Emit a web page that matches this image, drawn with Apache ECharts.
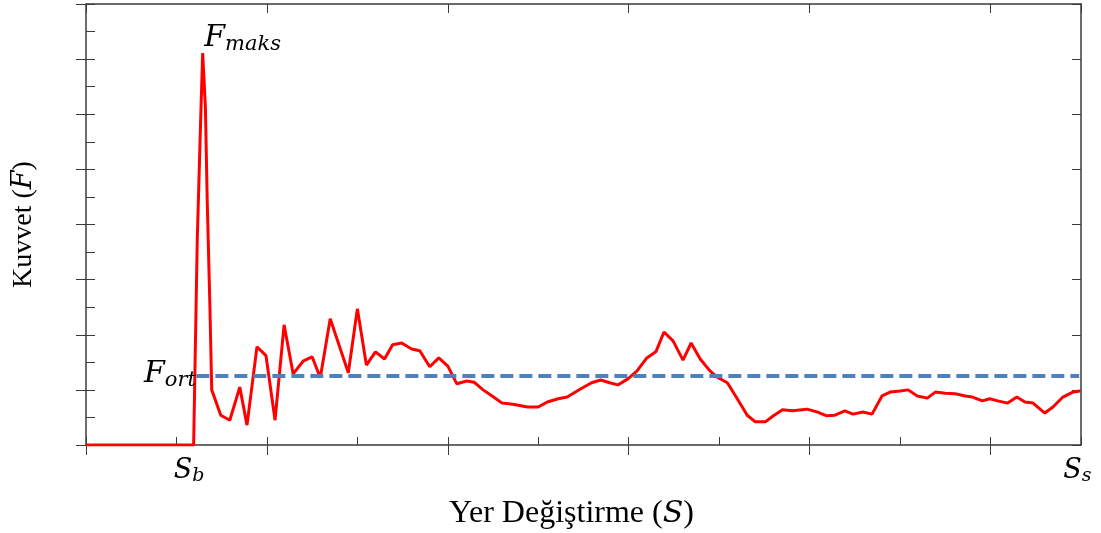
<!DOCTYPE html>
<html>
<head>
<meta charset="utf-8">
<script src="https://cdn.jsdelivr.net/npm/echarts@6/dist/echarts.min.js"></script>
<style>
  html, body { margin: 0; padding: 0; background: #fff; }
  #chart { width: 1101px; height: 533px; }
</style>
</head>
<body>
<div id="chart"></div>
<script>
// yer degistirme (S) ve kuvvet (F) okumalari
const dispS = [0, 1.19, 1.2, 1.23, 1.27, 1.29, 1.32, 1.34, 1.37, 1.39, 1.49, 1.59, 1.7, 1.78, 1.89, 1.99, 2.09, 2.19, 2.29, 2.4, 2.5, 2.59, 2.7, 2.9, 3.0, 3.1, 3.2, 3.3, 3.39, 3.49, 3.6, 3.69, 3.8, 3.9, 4.0, 4.1, 4.21, 4.29, 4.39, 4.49, 4.6, 4.72, 4.88, 5.0, 5.1, 5.22, 5.32, 5.48, 5.59, 5.69, 5.79, 5.88, 5.99, 6.09, 6.2, 6.3, 6.39, 6.49, 6.6, 6.69, 6.79, 6.9, 6.98, 7.09, 7.2, 7.31, 7.4, 7.51, 7.6, 7.7, 7.81, 7.97, 8.08, 8.19, 8.28, 8.39, 8.48, 8.59, 8.69, 8.8, 8.89, 9.0, 9.09, 9.19, 9.3, 9.39, 9.5, 9.61, 9.72, 9.8, 9.91, 9.99, 10.08, 10.19, 10.29, 10.38, 10.47, 10.6, 10.69, 10.8, 10.91, 10.99]
const force = [0, 0, 0.94, 3.72, 6.03, 7.11, 6.13, 4.45, 2.5, 1.0, 0.54, 0.45, 1.05, 0.36, 1.78, 1.62, 0.45, 2.18, 1.29, 1.52, 1.6, 1.22, 2.29, 1.31, 2.47, 1.45, 1.69, 1.56, 1.82, 1.85, 1.74, 1.71, 1.42, 1.58, 1.43, 1.11, 1.16, 1.14, 1.0, 0.89, 0.76, 0.74, 0.69, 0.69, 0.78, 0.84, 0.87, 1.03, 1.13, 1.18, 1.13, 1.09, 1.2, 1.34, 1.58, 1.69, 2.05, 1.89, 1.54, 1.85, 1.56, 1.34, 1.23, 1.13, 0.84, 0.54, 0.42, 0.42, 0.53, 0.64, 0.62, 0.65, 0.6, 0.53, 0.54, 0.62, 0.56, 0.6, 0.56, 0.89, 0.96, 0.98, 1.0, 0.89, 0.85, 0.96, 0.94, 0.93, 0.89, 0.87, 0.8, 0.84, 0.8, 0.76, 0.87, 0.78, 0.76, 0.58, 0.69, 0.87, 0.96, 0.98]
const fOrt = 1.25          // ortalama kuvvet
const fOrtRange = [1.22, 10.98]
const peakIndex = 5        // F_maks noktasi
const majorTicksS = [0, 2, 4, 6, 8, 10]
const sLabelPos = [1.14, 10.96]
const sLabels = ['{s|S}{sub|b}', '{s|S}{sub|s}']

const mathFont = 'DejaVu Serif'
const axisColor = '#3a3a3a'
const rich = {
  s: { fontFamily: mathFont, fontStyle: 'italic', fontSize: 27, color: '#000' },
  sub: { fontFamily: mathFont, fontStyle: 'italic', fontSize: 19, color: '#000', padding: [12, 0, 0, 0] }
}
const richF = {
  s: { fontFamily: mathFont, fontStyle: 'italic', fontSize: 30, color: '#000' },
  sub: { fontFamily: mathFont, fontStyle: 'italic', fontSize: 21, color: '#000', padding: [13, 0, 0, 0] }
}

let chart = echarts.init(document.getElementById('chart'))

const lineData = dispS.map((s, i) => [s, force[i]])

const gridRect = { left: 86, right: 20, top: 4, bottom: 88, outerBoundsMode: 'none', containLabel: false }
const xBase = { type: 'value', min: 0, max: 11, splitLine: { show: false } }
const yBase = { type: 'value', min: 0, max: 8, splitLine: { show: false } }
const noLabel = { show: false }
const solidLine = { show: true, onZero: false, lineStyle: { color: axisColor, width: 1.5 } }

var option = {
  animation: false,
  // 3 ayni grid: alt/sol cizgiler, disari dogru tikler, ust/sag cizgiler
  grid: [Object.assign({}, gridRect), Object.assign({}, gridRect), Object.assign({}, gridRect)],
  xAxis: [
    Object.assign({}, xBase, {
      gridIndex: 0,
      position: 'bottom',
      interval: 1,
      axisLine: solidLine,
      axisTick: { show: true, inside: true, length: 8, lineStyle: { color: axisColor } },
      axisLabel: noLabel,
      name: '{n|Yer Değiştirme (}{i|S}{n|)}',
      nameLocation: 'middle',
      nameGap: 53,
      nameTextStyle: {
        padding: [0, 24, 0, 0],
        rich: {
          n: { fontFamily: 'Liberation Serif', fontSize: 32, color: '#000' },
          i: { fontFamily: mathFont, fontStyle: 'italic', fontSize: 30, color: '#000' }
        }
      }
    }),
    Object.assign({}, xBase, {
      gridIndex: 1,
      position: 'bottom',
      axisLine: { show: false, onZero: false },
      axisTick: { show: true, inside: false, length: 10, customValues: majorTicksS, lineStyle: { color: axisColor } },
      axisLabel: {
        show: true,
        margin: 10,
        customValues: sLabelPos,
        formatter: (v) => sLabels[sLabelPos.indexOf(v)],
        rich: rich
      }
    }),
    Object.assign({}, xBase, {
      gridIndex: 2,
      position: 'top',
      interval: 2,
      axisLine: solidLine,
      axisTick: { show: true, inside: true, length: 9, lineStyle: { color: axisColor } },
      axisLabel: noLabel
    })
  ],
  yAxis: [
    Object.assign({}, yBase, {
      gridIndex: 0,
      position: 'left',
      interval: 0.5,
      axisLine: solidLine,
      axisTick: { show: true, inside: true, length: 9, lineStyle: { color: axisColor } },
      axisLabel: noLabel,
      name: '{n|Kuvvet (}{i|F}{n|)}',
      nameLocation: 'middle',
      nameGap: 48,
      nameRotate: 90,
      nameTextStyle: {
        rich: {
          n: { fontFamily: 'Liberation Serif', fontSize: 28, color: '#000' },
          i: { fontFamily: mathFont, fontStyle: 'italic', fontSize: 27, color: '#000' }
        }
      }
    }),
    Object.assign({}, yBase, {
      gridIndex: 1,
      position: 'left',
      interval: 1,
      axisLine: { show: false, onZero: false },
      axisTick: { show: true, inside: false, length: 10, lineStyle: { color: axisColor } },
      axisLabel: noLabel
    }),
    Object.assign({}, yBase, {
      gridIndex: 2,
      position: 'right',
      interval: 1,
      axisLine: solidLine,
      axisTick: { show: true, inside: true, length: 9, lineStyle: { color: axisColor } },
      axisLabel: noLabel
    })
  ],
  series: [
    {
      name: 'F',
      type: 'line',
      xAxisIndex: 0,
      yAxisIndex: 0,
      data: lineData,
      symbol: 'none',
      lineStyle: { color: '#ff0000', width: 3 },
      itemStyle: { color: '#ff0000' },
      markPoint: {
        symbol: 'circle',
        symbolSize: 1,
        itemStyle: { color: 'rgba(0,0,0,0)' },
        label: {
          show: true,
          position: 'right',
          distance: 1,
          offset: [0, -15],
          formatter: '{s|F}{sub|maks}',
          rich: richF
        },
        data: [{ coord: lineData[peakIndex] }]
      },
      z: 3
    },
    {
      name: 'F_ort',
      type: 'line',
      xAxisIndex: 0,
      yAxisIndex: 0,
      data: [[fOrtRange[0], fOrt], [fOrtRange[1], fOrt]],
      symbol: 'none',
      lineStyle: { color: '#4f81bd', width: 4, type: [13, 6] },
      itemStyle: { color: '#4f81bd' },
      markPoint: {
        symbol: 'circle',
        symbolSize: 1,
        itemStyle: { color: 'rgba(0,0,0,0)' },
        label: {
          show: true,
          position: 'left',
          distance: 0,
          offset: [0, -2],
          formatter: '{s|F}{sub|ort}',
          rich: richF
        },
        data: [{ coord: [fOrtRange[0], fOrt] }]
      },
      z: 4
    }
  ]
}
chart.setOption(option)
</script>
</body>
</html>
